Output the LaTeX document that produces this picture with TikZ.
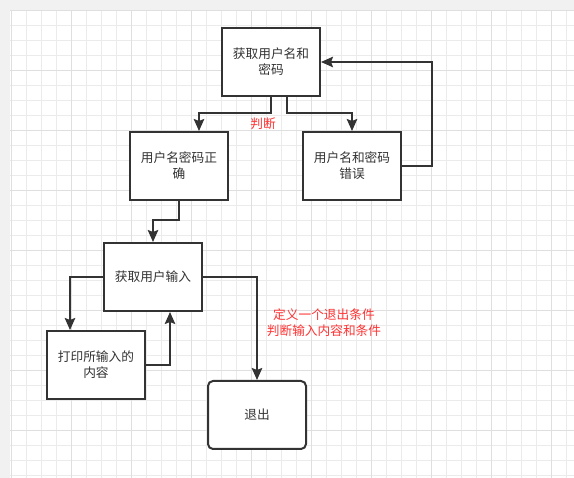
\documentclass[tikz,border=0pt]{standalone}
\usepackage{fontspec}
\setmainfont{Noto Sans CJK SC}
\usetikzlibrary{arrows.meta}
\definecolor{bggray}{HTML}{F1F1F1}
\definecolor{minorgrid}{HTML}{EBEBEB}
\definecolor{majorgrid}{HTML}{DFDFDF}
\definecolor{ink}{HTML}{333333}
\definecolor{redtext}{HTML}{FF3333}
\tikzset{
  box/.style={draw=ink, line width=2pt, fill=white, minimum width=98pt, minimum height=68pt,
    align=center, text=ink, font=\fontsize{12.7}{16}\selectfont, inner sep=2pt},
  roundbox/.style={box, rounded corners=5pt},
  conn/.style={draw=ink, line width=2pt, -{Stealth[length=12pt,width=10.5pt,inset=2pt]}},
  redlabel/.style={text=redtext, align=center, font=\fontsize{12.7}{16}\selectfont, inner sep=0pt}
}
\begin{document}
\begin{tikzpicture}[x=1pt,y=-1pt]
\useasboundingbox (0,0) rectangle (574,478);
\fill[bggray] (0,0) rectangle (574,478);
\fill[white] (10,11) rectangle (574,478);
\foreach \i in {0,...,38} {
  \draw[minorgrid, line width=1pt] ({11+15*\i},11) -- ({11+15*\i},478);
}
\foreach \i in {0,...,31} {
  \draw[minorgrid, line width=1pt] (10,{11+15*\i}) -- (574,{11+15*\i});
}
\foreach \i in {0,...,9} {
  \draw[majorgrid, line width=1pt] ({11+60*\i},11) -- ({11+60*\i},478);
}
\foreach \i in {0,...,7} {
  \draw[majorgrid, line width=1pt] (10,{11+60*\i}) -- (574,{11+60*\i});
}

\node[box] (A) at (271,62) {获取用户名和\\密码};
\node[box] (B) at (179,166) {用户名密码正\\确};
\node[box] (C) at (352,166) {用户名和密码\\错误};
\node[box] (D) at (153,277) {获取用户输入};
\node[box] (E) at (96,365) {打印所输入的\\内容};
\node[roundbox] (F) at (257,415) {退出};

\draw[conn] (A.south) -- ++(0,16) -| ([xshift=20pt]B.north);
\draw[conn] ([xshift=16pt]A.south) -- ++(0,16) -| (C.north);
\draw[conn] (C.east) -- ++(30,0) |- (A.east);
\draw[conn] (B.south) -- ++(0,19) -| (D.north);
\draw[conn] (D.west) -| ([xshift=-26pt]E.north);
\draw[conn] (E.east) -| ([xshift=17pt]D.south);
\draw[conn] (D.east) -| (F.north);

\node[redlabel] (L1) at (263,124) {判断};
\node[redlabel] (L2) at (324,323) {定义一个退出条件\\判断输入内容和条件};
\end{tikzpicture}
\end{document}
